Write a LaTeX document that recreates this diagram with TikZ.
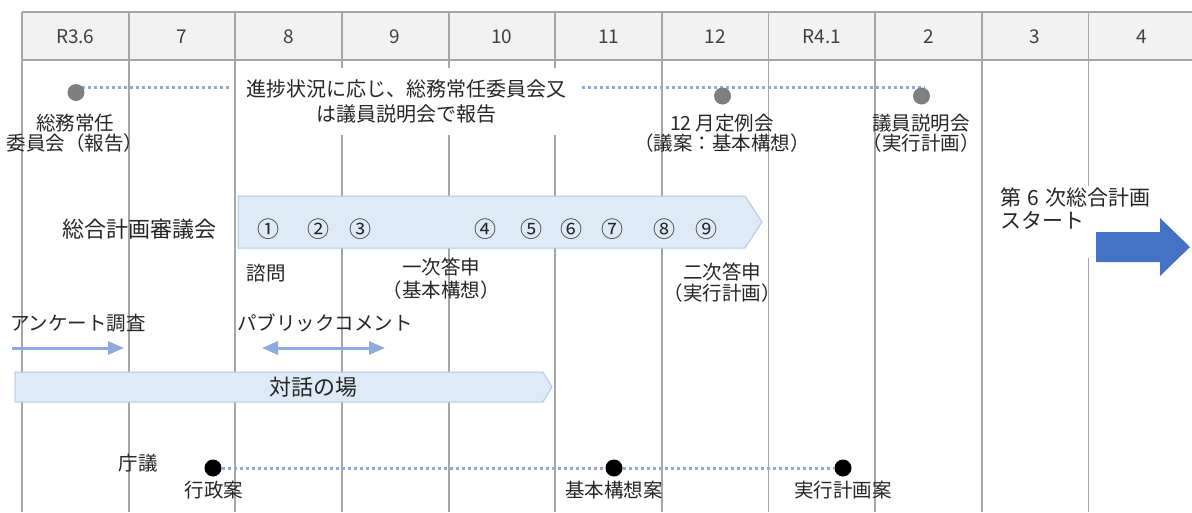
\documentclass[tikz,border=0pt]{standalone}
\usepackage{fontspec}
\setmainfont{Noto Sans CJK JP}
\usetikzlibrary{arrows.meta}
\definecolor{gridc}{HTML}{A6A6A6}
\definecolor{headc}{HTML}{F2F2F2}
\definecolor{paleblue}{HTML}{DEEBF7}
\definecolor{paleedge}{HTML}{B4C7E7}
\definecolor{dotc}{HTML}{8FAADC}
\definecolor{bigblue}{HTML}{4472C4}
\definecolor{txt}{HTML}{262626}
\definecolor{hdrtxt}{HTML}{404040}
\definecolor{graydot}{HTML}{7F7F7F}
\tikzset{
  lab/.style={font=\fontsize{19.5}{20}\selectfont, text=txt, inner sep=0pt, align=center},
  hdr/.style={font=\fontsize{19}{20}\selectfont, text=hdrtxt, inner sep=0pt},
  num/.style={font=\fontsize{22}{22}\selectfont, text=txt, inner sep=0pt},
  gdot/.style={circle, fill=graydot, minimum size=17pt, inner sep=0pt},
  bdot/.style={circle, fill=black, minimum size=17pt, inner sep=0pt},
  dotline/.style={draw=dotc, line width=3pt, dash pattern=on 3pt off 3pt},
  bluebox/.style={fill=paleblue, draw=paleedge, line width=1pt},
  thinarrow/.style={draw=dotc, line width=3pt, -{Triangle[length=16pt,width=13pt]}},
  twoarrow/.style={draw=dotc, line width=3pt, {Triangle[length=16pt,width=13pt]}-{Triangle[length=16pt,width=13pt]}},
  gridline/.style={draw=gridc, line width=1.8pt},
}
\begin{document}
\begin{tikzpicture}[x=1pt,y=-1pt]
\useasboundingbox (0,0) rectangle (1192,512);
\fill[white] (0,0) rectangle (1192,512);
% header
\fill[headc] (22,12) rectangle (1192,60);
\foreach \i in {0,...,10} \draw[gridline] ({22+\i*106.65},12) -- ({22+\i*106.65},512);
\draw[gridline] (22,12) -- (1192,12);
\draw[gridline] (22,60) -- (1192,60);
\foreach \t [count=\i from 0] in {R3.6,7,8,9,10,11,12,R4.1,2,3,4}
  \node[hdr] (h\i) at ({75.3+\i*106.65},37) {\t};

% top row
\coordinate (p1) at (82,87.5);
\coordinate (p2) at (230,87.5);
\coordinate (p3) at (582,87.5);
\coordinate (p4) at (925,87.5);
\draw[dotline] (p1) -- (p2);
\draw[dotline] (p3) -- (p4);
\node[gdot] (d1) at (76,92.5) {};
\node[gdot] (d2) at (722.5,96) {};
\node[gdot] (d3) at (921.5,96) {};
\node[lab, fill=white, minimum width=338pt, minimum height=67pt, font=\fontsize{20}{25}\selectfont] (rep) at (406,101.5) {進捗状況に応じ、総務常任委員会又\\は議員説明会で報告};
\node[lab] (smlab) at (75,133) {総務常任\\委員会（報告）};
\node[lab] (teirei) at (722,133) {12 月定例会\\（議案：基本構想）};
\node[lab] (giin) at (921,133) {議員説明会\\（実行計画）};

% council
\path[bluebox] (238,196) -- (745,196) -- (762,222) -- (745,248) -- (238,248) -- cycle;
\node[lab, font=\fontsize{22}{24}\selectfont] (shingi) at (139,229) {総合計画審議会};
\foreach \x/\t [count=\i] in {268/①,318/②,360/③,485/④,531/⑤,571/⑥,612/⑦,664/⑧,706/⑨}
  \node[num] (c\i) at (\x,229) {\t};
\node[lab] (shimon) at (266,273) {諮問};
\node[lab, font=\fontsize{19.5}{23}\selectfont] (ichiji) at (441,279) {一次答申\\（基本構想）};
\node[lab, font=\fontsize{19.5}{21}\selectfont] (niji) at (722,283) {二次答申\\（実行計画）};

% start
\fill[white] (994,186) rectangle (1095,258);
\node[lab, align=left, anchor=west, font=\fontsize{21}{23}\selectfont] (start) at (1000,208.5) {第\hspace{0.3em}6\hspace{0.3em}次総合計画\\スタート};
\fill[bigblue] (1096,232) -- (1160,232) -- (1160,218) -- (1190,247) -- (1160,276) -- (1160,262) -- (1096,262) -- cycle;

% survey and comment
\node[lab] (anke) at (78,323) {アンケート調査};
\coordinate (a1) at (12,348);
\coordinate (a2) at (124,348);
\draw[thinarrow] (a1) -- (a2);
\node[lab] (pub) at (325,323) {パブリックコメント};
\coordinate (b1) at (262,348);
\coordinate (b2) at (385,348);
\draw[twoarrow] (b1) -- (b2);

% dialogue
\path[bluebox] (15,372) -- (543,372) -- (552,387) -- (543,402) -- (15,402) -- cycle;
\node[lab, font=\fontsize{22}{24}\selectfont] (taiwa) at (313,387) {対話の場};

% agency meeting
\node[lab] (chogi) at (138,463) {庁議};
\node[bdot] (g1) at (213,468) {};
\node[bdot] (g2) at (614,468) {};
\node[bdot] (g3) at (843,468) {};
\draw[dotline] (g1) -- (g2);
\draw[dotline] (g2) -- (g3);
\node[lab] (gyosei) at (214,490) {行政案};
\node[lab] (kihon) at (614,490) {基本構想案};
\node[lab] (jikko) at (843,490) {実行計画案};
\end{tikzpicture}
\end{document}
